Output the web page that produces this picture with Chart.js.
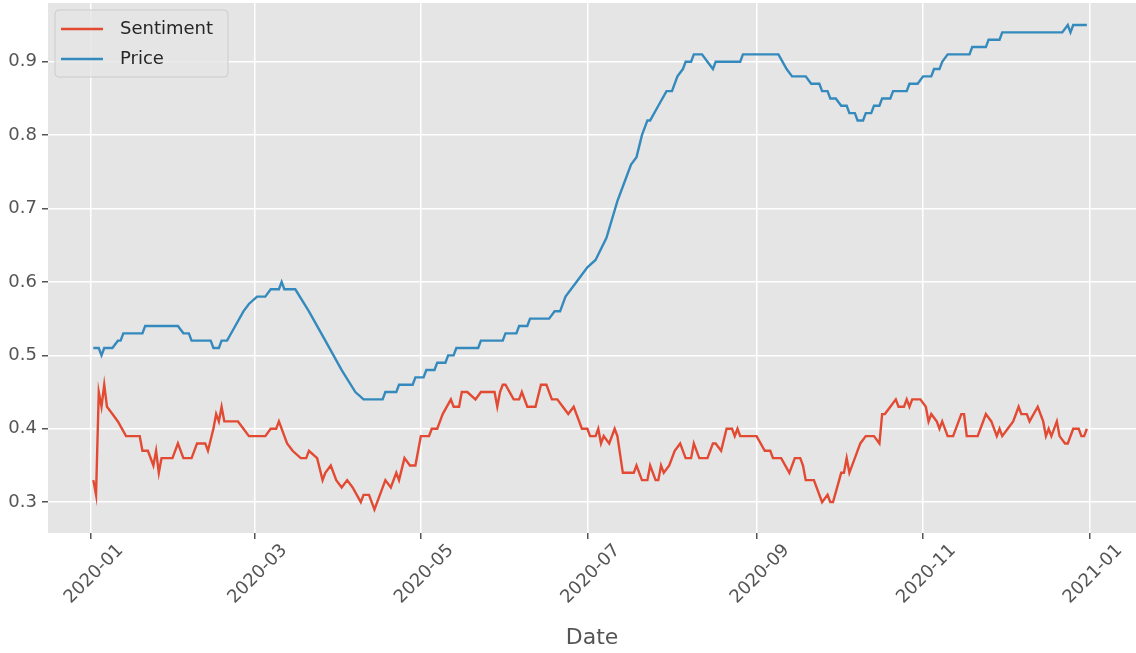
<!DOCTYPE html>
<html>
<head>
<meta charset="utf-8">
<script src="https://cdn.jsdelivr.net/npm/chart.js@4.4.1/dist/chart.umd.min.js"></script>
<style>
  html, body { margin: 0; padding: 0; background: #ffffff; }
  #wrap { width: 1136px; height: 653px; }
</style>
</head>
<body>
<div id="wrap"><canvas id="c" width="1136" height="653"></canvas></div>
<script>
// Days since 2020-01-01
const sentimentDays = [1,2,3,4,5,6,8,10,13,18,19,21,23,24,25,26,30,32,34,37,39,42,43,45,46,47,48,49,54,56,58,64,66,68,69,71,72,74,77,79,80,83,85,86,88,90,92,94,96,99,100,102,104,106,108,110,112,113,115,117,119,121,124,125,127,128,129,132,133,135,136,138,141,143,148,149,150,151,152,155,157,158,160,163,165,167,169,171,173,175,177,178,180,182,183,185,186,187,188,190,192,193,195,199,200,202,204,205,207,208,209,210,212,214,216,218,220,221,223,226,228,229,231,233,235,236,237,238,244,247,249,250,253,256,258,260,261,262,265,268,270,271,272,275,276,277,278,282,284,287,289,290,291,293,295,296,298,299,300,301,304,306,307,308,310,311,312,314,316,319,320,321,325,328,330,332,333,334,336,338,340,341,343,344,347,349,350,351,352,354,355,357,358,360,362,363,364,365];
const sentimentValues = [0.33,0.31,0.45,0.43,0.46,0.43,0.42,0.41,0.39,0.39,0.37,0.37,0.35,0.37,0.34,0.36,0.36,0.38,0.36,0.36,0.38,0.38,0.37,0.40,0.42,0.41,0.43,0.41,0.41,0.40,0.39,0.39,0.40,0.40,0.41,0.39,0.38,0.37,0.36,0.36,0.37,0.36,0.33,0.34,0.35,0.33,0.32,0.33,0.32,0.30,0.31,0.31,0.29,0.31,0.33,0.32,0.34,0.33,0.36,0.35,0.35,0.39,0.39,0.40,0.40,0.41,0.42,0.44,0.43,0.43,0.45,0.45,0.44,0.45,0.45,0.43,0.45,0.46,0.46,0.44,0.44,0.45,0.43,0.43,0.46,0.46,0.44,0.44,0.43,0.42,0.43,0.42,0.40,0.40,0.39,0.39,0.40,0.38,0.39,0.38,0.40,0.39,0.34,0.34,0.35,0.33,0.33,0.35,0.33,0.33,0.35,0.34,0.35,0.37,0.38,0.36,0.36,0.38,0.36,0.36,0.38,0.38,0.37,0.40,0.40,0.39,0.40,0.39,0.39,0.37,0.37,0.36,0.36,0.34,0.36,0.36,0.35,0.33,0.33,0.30,0.31,0.30,0.30,0.34,0.34,0.36,0.34,0.38,0.39,0.39,0.38,0.42,0.42,0.43,0.44,0.43,0.43,0.44,0.43,0.44,0.44,0.43,0.41,0.42,0.41,0.40,0.41,0.39,0.39,0.42,0.42,0.39,0.39,0.42,0.41,0.39,0.40,0.39,0.40,0.41,0.43,0.42,0.42,0.41,0.43,0.41,0.39,0.40,0.39,0.41,0.39,0.38,0.38,0.40,0.40,0.39,0.39,0.40];

const priceDays = [1,3,4,5,8,10,11,12,19,20,32,34,36,37,44,45,47,48,50,53,56,58,61,64,66,69,70,71,75,80,86,92,97,100,107,108,112,113,118,119,122,123,126,127,130,131,133,134,142,143,151,152,156,157,160,161,168,170,172,174,178,182,185,189,193,195,198,200,202,204,205,208,211,213,215,217,218,220,221,224,226,228,229,238,239,252,255,257,262,264,267,268,270,271,273,275,277,278,280,281,283,284,286,287,289,290,293,294,299,300,303,305,308,309,311,312,314,322,323,328,329,333,334,356,358,359,360,365];
const priceValues = [0.51,0.51,0.50,0.51,0.51,0.52,0.52,0.53,0.53,0.54,0.54,0.53,0.53,0.52,0.52,0.51,0.51,0.52,0.52,0.54,0.56,0.57,0.58,0.58,0.59,0.59,0.60,0.59,0.59,0.56,0.52,0.48,0.45,0.44,0.44,0.45,0.45,0.46,0.46,0.47,0.47,0.48,0.48,0.49,0.49,0.50,0.50,0.51,0.51,0.52,0.52,0.53,0.53,0.54,0.54,0.55,0.55,0.56,0.56,0.58,0.60,0.62,0.63,0.66,0.71,0.73,0.76,0.77,0.80,0.82,0.82,0.84,0.86,0.86,0.88,0.89,0.90,0.90,0.91,0.91,0.90,0.89,0.90,0.90,0.91,0.91,0.89,0.88,0.88,0.87,0.87,0.86,0.86,0.85,0.85,0.84,0.84,0.83,0.83,0.82,0.82,0.83,0.83,0.84,0.84,0.85,0.85,0.86,0.86,0.87,0.87,0.88,0.88,0.89,0.89,0.90,0.91,0.91,0.92,0.92,0.93,0.93,0.94,0.94,0.95,0.94,0.95,0.95];

const xTickDays = [0, 60, 121, 182, 244, 305, 366];
const xTickLabels = ['2020-01', '2020-03', '2020-05', '2020-07', '2020-09', '2020-11', '2021-01'];
const yTickValues = [0.3, 0.4, 0.5, 0.6, 0.7, 0.8, 0.9];
const yTickLabels = ['0.3', '0.4', '0.5', '0.6', '0.7', '0.8', '0.9'];

const seriesNames = ['Sentiment', 'Price'];
const seriesColors = ['#E24A33', '#348ABD'];

function toPoints(days, vals) {
  return days.map((d, i) => ({ x: d, y: vals[i] }));
}

const FONT = "'DejaVu Sans', sans-serif";

const bgPlugin = {
  id: 'bg',
  beforeDraw(chart) {
    const { ctx, chartArea: a } = chart;
    ctx.save();
    ctx.fillStyle = '#ffffff';
    ctx.fillRect(0, 0, chart.width, chart.height);
    ctx.fillStyle = '#E5E5E5';
    ctx.fillRect(a.left, a.top, a.right - a.left, a.bottom - a.top);
    ctx.restore();
  }
};

const legendPlugin = {
  id: 'mplLegend',
  afterDatasetsDraw(chart) {
    const { ctx, chartArea: a } = chart;
    const x0 = a.left + 7, y0 = a.top + 7, w = 173, h = 67, r = 4;
    ctx.save();
    ctx.beginPath();
    ctx.moveTo(x0 + r, y0);
    ctx.lineTo(x0 + w - r, y0);
    ctx.quadraticCurveTo(x0 + w, y0, x0 + w, y0 + r);
    ctx.lineTo(x0 + w, y0 + h - r);
    ctx.quadraticCurveTo(x0 + w, y0 + h, x0 + w - r, y0 + h);
    ctx.lineTo(x0 + r, y0 + h);
    ctx.quadraticCurveTo(x0, y0 + h, x0, y0 + h - r);
    ctx.lineTo(x0, y0 + r);
    ctx.quadraticCurveTo(x0, y0, x0 + r, y0);
    ctx.closePath();
    ctx.fillStyle = 'rgba(229,229,229,0.8)';
    ctx.fill();
    ctx.strokeStyle = '#cccccc';
    ctx.lineWidth = 1;
    ctx.stroke();
    chart.data.datasets.forEach((ds, i) => {
      const cy = y0 + 19 + i * 30;
      ctx.beginPath();
      ctx.moveTo(x0 + 6, cy);
      ctx.lineTo(x0 + 48, cy);
      ctx.strokeStyle = ds.borderColor;
      ctx.lineWidth = 2.5;
      ctx.stroke();
      ctx.fillStyle = '#262626';
      ctx.font = '18px ' + FONT;
      ctx.textBaseline = 'middle';
      ctx.textAlign = 'left';
      ctx.fillText(ds.label, x0 + 65, cy);
    });
    ctx.restore();
  }
};

new Chart(document.getElementById('c'), {
  type: 'line',
  data: {
    datasets: [
      { label: seriesNames[0], data: toPoints(sentimentDays, sentimentValues), borderColor: seriesColors[0], backgroundColor: seriesColors[0], borderWidth: 2.4, pointRadius: 0, tension: 0, fill: false },
      { label: seriesNames[1], data: toPoints(priceDays, priceValues), borderColor: seriesColors[1], backgroundColor: seriesColors[1], borderWidth: 2.4, pointRadius: 0, tension: 0, fill: false }
    ]
  },
  options: {
    responsive: false,
    animation: false,
    devicePixelRatio: 1,
    layout: { padding: { top: 3, right: 0, left: 0, bottom: 0 } },
    plugins: { legend: { display: false }, tooltip: { enabled: false } },
    scales: {
      x: {
        type: 'linear',
        min: -15.6,
        max: 383,
        afterFit(scale) { scale.height = 120; scale.paddingLeft = 0; scale.paddingRight = 0; },
        afterBuildTicks(scale) { scale.ticks = xTickDays.map(v => ({ value: v })); },
        grid: { color: '#ffffff', lineWidth: 1.5, tickColor: '#555555', tickLength: 6, drawTicks: true },
        border: { display: false },
        ticks: {
          autoSkip: false,
          minRotation: 45,
          maxRotation: 45,
          labelOffset: 30,
          padding: 1,
          color: '#555555',
          font: { family: FONT, size: 18 },
          callback(value) { const i = xTickDays.indexOf(value); return i >= 0 ? xTickLabels[i] : ''; }
        },
        title: { display: true, text: 'Date', color: '#555555', font: { family: FONT, size: 22 }, padding: { top: 2, bottom: 2 } }
      },
      y: {
        type: 'linear',
        min: 0.258,
        max: 0.98,
        afterFit(scale) { scale.width = 48; scale.paddingTop = 0; scale.paddingBottom = 0; },
        afterBuildTicks(scale) { scale.ticks = yTickValues.map(v => ({ value: v })); },
        grid: { color: '#ffffff', lineWidth: 1.5, tickColor: '#555555', tickLength: 6, drawTicks: true },
        border: { display: false },
        ticks: {
          padding: 5,
          color: '#555555',
          font: { family: FONT, size: 18 },
          callback(value) { const i = yTickValues.findIndex(t => Math.abs(t - value) < 1e-9); return i >= 0 ? yTickLabels[i] : ''; }
        }
      }
    }
  },
  plugins: [bgPlugin, legendPlugin]
});
</script>
</body>
</html>
